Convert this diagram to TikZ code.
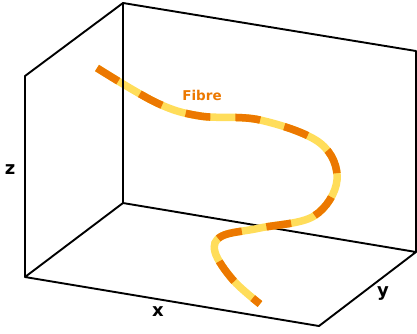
\documentclass[tikz,border=0pt]{standalone}
\usepackage{fontspec}
\setmainfont{DejaVu Sans}
\usepackage{tikz}
\usepackage{xcolor}
\definecolor{fibreorange}{RGB}{236,120,0}
\definecolor{fibreyellow}{RGB}{255,221,90}

\begin{document}
\begin{tikzpicture}[x=1pt,y=-1pt,
  edge/.style={line width=1.9pt,line join=round},
  axislabel/.style={font=\fontsize{18}{21}\selectfont\bfseries},
  fibre/.style={fibreyellow,line width=7.5pt,
    postaction={draw=fibreorange,dash pattern=on 25pt off 25pt}}
]
\useasboundingbox (0,0) rectangle (417,333);
% box corners
\coordinate (fbl) at (25,277);
\coordinate (ftl) at (25,76);
\coordinate (bbl) at (123,203);
\coordinate (btl) at (123,3);
\coordinate (bbr) at (416,252);
\coordinate (btr) at (416,51);
\coordinate (fbr) at (319,326);
\draw[edge] (fbl) -- (ftl) -- (btl) -- (btr) -- (bbr);
\draw[edge] (fbl) -- (bbl) -- (bbr) -- (fbr) -- cycle;
% the fibre
\draw[fibre] plot[smooth,tension=0.6] coordinates {(97,68) (157,103) (200,116) (260,120) (320,143) (337,180) (314,216) (260,228) (222,236) (215,252) (233,280) (260,304)};
\draw[edge] (btl) -- (bbl);
\node[axislabel] (zlab) at (10,170) {z};
\node[axislabel] (xlab) at (158,312) {x};
\node[axislabel] (ylab) at (383,294) {y};
\node[font=\fontsize{13.5}{16}\selectfont\bfseries,text=fibreorange] (fibrelab) at (202,95) {Fibre};
\end{tikzpicture}
\end{document}
